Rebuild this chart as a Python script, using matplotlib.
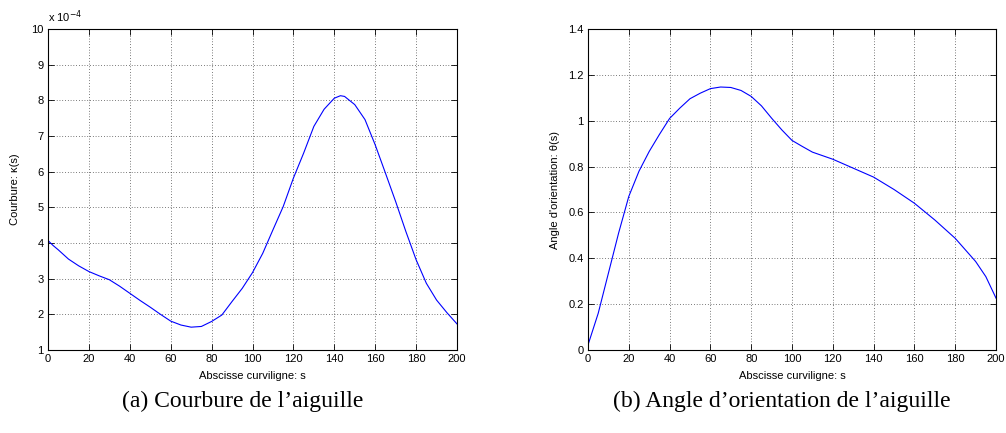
import matplotlib.pyplot as plt
import numpy as np

# curvature of the needle, in units of 1e-4
s_kappa = [0, 2.5, 5, 10, 15, 20, 25, 30, 35, 40, 45, 50, 55, 60, 65, 70, 75,
           80, 85, 90, 95, 100, 105, 110, 115, 120, 125, 130, 135, 140, 143,
           145, 150, 155, 160, 165, 170, 175, 180, 185, 190, 195, 200]
kappa = [4.07, 3.93, 3.81, 3.55, 3.36, 3.20, 3.08, 2.97, 2.79, 2.59, 2.39, 2.20,
         2.00, 1.81, 1.70, 1.64, 1.66, 1.80, 1.98, 2.36, 2.73, 3.17, 3.71, 4.37,
         5.02, 5.82, 6.52, 7.27, 7.75, 8.06, 8.13, 8.11, 7.88, 7.46, 6.75, 5.96,
         5.16, 4.32, 3.53, 2.87, 2.40, 2.05, 1.73]

# orientation angle of the needle
s_theta = [0, 5, 10, 15, 20, 25, 30, 35, 40, 45, 50, 55, 60, 65, 70, 75, 80, 85,
           90, 95, 100, 105, 110, 120, 130, 140, 150, 160, 170, 180, 190, 195, 200]
theta = [0.022, 0.16, 0.335, 0.51, 0.67, 0.78, 0.866, 0.94, 1.01, 1.055, 1.096,
         1.12, 1.14, 1.147, 1.145, 1.132, 1.106, 1.065, 1.011, 0.96, 0.914,
         0.888, 0.863, 0.832, 0.793, 0.754, 0.70, 0.64, 0.567, 0.487, 0.386,
         0.32, 0.226]

sans = ['Liberation Sans', 'DejaVu Sans']
serif = ['Liberation Serif', 'DejaVu Serif']

fig = plt.figure(figsize=(10.06, 4.33), dpi=100)
ax1 = fig.add_axes([0.0477, 0.1917, 0.4066, 0.7413])
ax2 = fig.add_axes([0.5845, 0.1917, 0.4056, 0.7413])


def matlab_style(ax):
    # inward ticks on all four sides, dotted grid like the old matlab plots
    ax.tick_params(direction='in', top=True, right=True, length=4, width=0.6,
                   labelsize=8, pad=3, colors='black')
    for lab in ax.get_xticklabels() + ax.get_yticklabels():
        lab.set_family(sans)
    ax.grid(True, color='black', linestyle=(0, (1, 3)), linewidth=0.5)
    for sp in ax.spines.values():
        sp.set_linewidth(0.8)
    ax.set_xlim(0, 200)
    ax.set_xticks(np.arange(0, 201, 20))
    ax.set_xlabel('Abscisse curviligne: s', family=sans, fontsize=8, labelpad=5)


ax1.plot(s_kappa, kappa, color='#0000ff', linewidth=0.8)
ax1.set_ylim(1, 10)
ax1.set_yticks(np.arange(1, 11, 1))
matlab_style(ax1)
ax1.set_ylabel('Courbure: κ(s)', family=sans, fontsize=8, labelpad=8)
ax1.text(0, 1.012, r'x 10$^{-4}$', transform=ax1.transAxes, family=sans,
         fontsize=8, ha='left', va='bottom')

ax2.plot(s_theta, theta, color='#0000ff', linewidth=0.8)
ax2.set_ylim(0, 1.4)
ax2.set_yticks(np.arange(0, 1.41, 0.2))
ax2.set_yticklabels(['0', '0.2', '0.4', '0.6', '0.8', '1', '1.2', '1.4'])
matlab_style(ax2)
ax2.set_ylabel("Angle d'orientation: θ(s)", family=sans, fontsize=8, labelpad=6)

# sub captions below each plot
fig.text(243 / 1006, 1 - 401 / 433, '(a) Courbure de l\u2019aiguille',
         family=serif, fontsize=17, ha='center', va='center')
fig.text(782 / 1006, 1 - 401 / 433, '(b) Angle d\u2019orientation de l\u2019aiguille',
         family=serif, fontsize=17, ha='center', va='center')

plt.savefig('out.png', dpi=100)
